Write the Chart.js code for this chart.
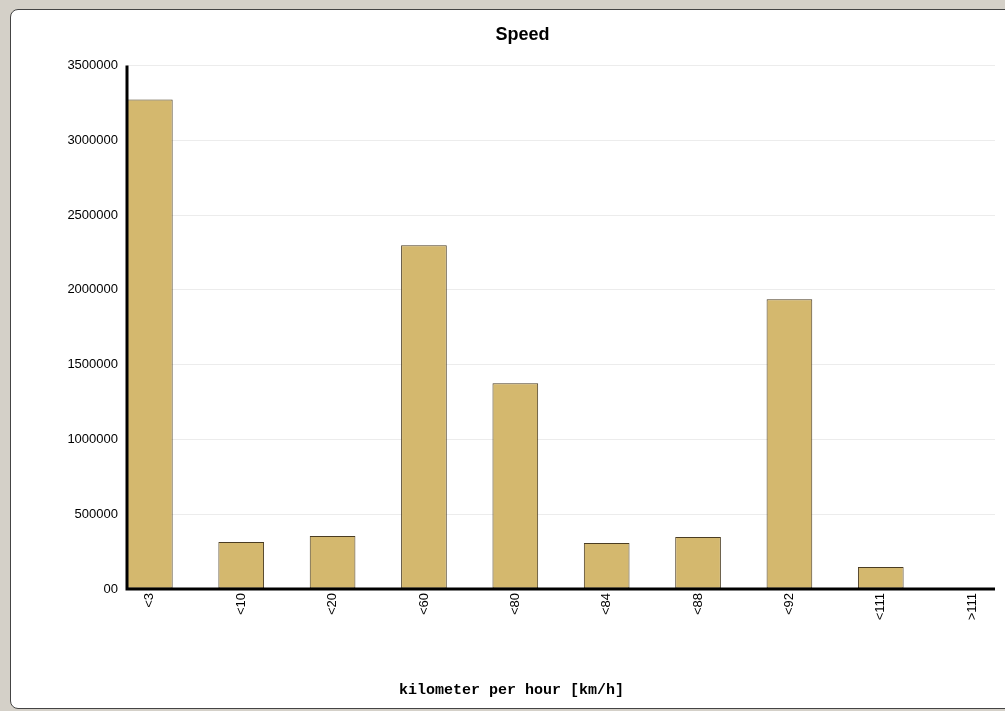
<!DOCTYPE html>
<html>
<head>
<meta charset="utf-8">
<script src="https://cdn.jsdelivr.net/npm/chart.js@4/dist/chart.umd.min.js"></script>
<style>
  html, body { margin: 0; padding: 0; background: #d4d0c8; overflow: hidden; }
  #panel {
    position: absolute; left: 10px; top: 9px; width: 1010px; height: 698px;
    background: #fff; border: 1px solid #444; border-radius: 8px;
  }
  #wrap { position: absolute; left: 0; top: 0; width: 1005px; height: 711px; }
</style>
</head>
<body>
<div id="panel"></div>
<div id="wrap"><canvas id="speed-chart"></canvas></div>
<script>
var categories = ['<3', '<10', '<20', '<60', '<80', '<84', '<88', '<92', '<111', '>111'];
var counts = [3273000, 314000, 354000, 2298000, 1376000, 307000, 347000, 1937000, 147000, 0];
var yTicks = [0, 500000, 1000000, 1500000, 2000000, 2500000, 3000000, 3500000];

// thick black axis lines like the original
var axisLines = {
  id: 'axisLines',
  afterDatasetsDraw: function (chart) {
    var c = chart.ctx, a = chart.chartArea;
    c.save();
    c.strokeStyle = '#000';
    c.lineWidth = 3;
    c.beginPath();
    c.moveTo(a.left, a.top);
    c.lineTo(a.left, a.bottom);
    c.lineTo(a.right, a.bottom);
    c.stroke();
    c.restore();
  }
};

var ctx = document.getElementById('speed-chart').getContext('2d');
var speedChart = new Chart(ctx, {
  type: 'bar',
  data: {
    datasets: [{
      data: counts.map(function (v, i) { return { x: i, y: v }; }),
      backgroundColor: '#d4b86e',
      borderColor: '#4a3c22',
      borderWidth: 1,
      borderSkipped: false,
      barPercentage: 0.5,
      categoryPercentage: 1
    }]
  },
  options: {
    responsive: true,
    maintainAspectRatio: false,
    animation: false,
    layout: { padding: { left: 50, right: 10, top: 18, bottom: 12 } },
    plugins: {
      legend: { display: false },
      tooltip: { enabled: false },
      title: {
        display: true,
        text: 'Speed',
        color: '#000',
        font: { family: 'Liberation Sans', size: 18, weight: 'bold' },
        padding: { top: 6, bottom: 20 }
      }
    },
    scales: {
      x: {
        type: 'linear',
        offset: false,
        min: -0.25,
        max: categories.length - 0.75,
        afterBuildTicks: function (scale) {
          scale.ticks = categories.map(function (c, i) { return { value: i }; });
        },
        grid: { display: false, drawTicks: false },
        border: { display: false },
        ticks: {
          color: '#000',
          font: { family: 'Liberation Sans', size: 13 },
          maxRotation: 90,
          minRotation: 90,
          padding: 4,
          callback: function (v) { return categories[v]; }
        },
        title: {
          display: true,
          // trailing blanks push the centred label left, as in the original
          text: 'kilometer per hour [km/h]           ',
          color: '#000',
          font: { family: 'Liberation Mono', size: 15, weight: 'bold' },
          padding: { top: 50, bottom: 0 }
        },
        afterFit: function (scale) { scale.height = 110; }
      },
      y: {
        min: 0,
        max: 3500000,
        afterBuildTicks: function (scale) {
          scale.ticks = yTicks.map(function (v) { return { value: v }; });
        },
        grid: { color: '#ececec', drawTicks: false },
        border: { display: false },
        ticks: {
          color: '#000',
          font: { family: 'Liberation Sans', size: 13 },
          padding: 9,
          callback: function (v) { return v === 0 ? '00' : String(v); }
        },
        afterFit: function (scale) { scale.width = 77; }
      }
    }
  },
  plugins: [axisLines]
});
</script>
</body>
</html>
